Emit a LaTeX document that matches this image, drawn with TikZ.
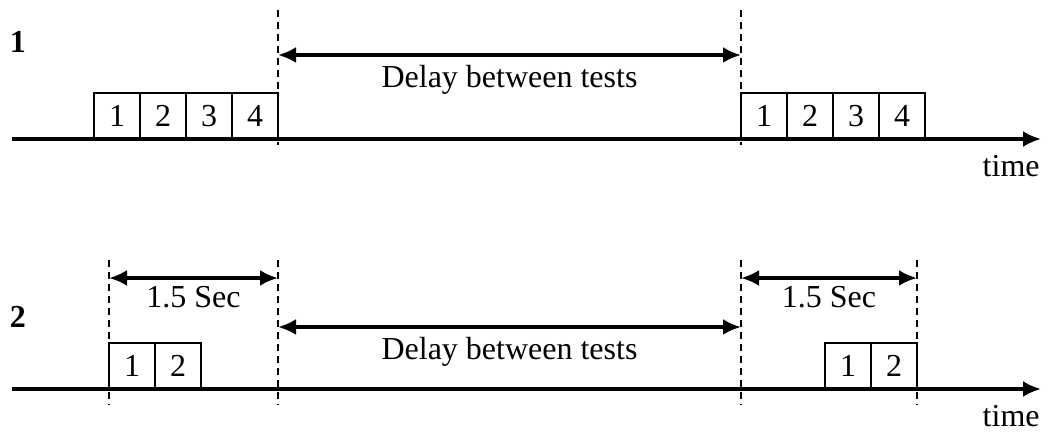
\documentclass[tikz,border=0pt]{standalone}
\usepackage{fontspec}
\setmainfont{Liberation Serif}
\usetikzlibrary{arrows.meta, positioning}

\begin{document}
\begin{tikzpicture}[
    x=0.5pt, y=-0.5pt, % one unit = one pixel of the reference
    >={Latex[length=9pt, width=8pt]}, % Filled arrow tips
    axis/.style={->, line width=1.7pt}, % Time axis
    cell/.style={draw, line width=1.1pt, minimum width=23pt, minimum height=23pt, inner sep=0pt, outer sep=0pt, font=\fontsize{16}{19}\selectfont}, % One test
    marker/.style={dash pattern=on 3.5pt off 2.5pt, line width=1.3pt}, % Dashed limits
    span/.style={<->, line width=1.7pt}, % Interval arrows
    txt/.style={font=\fontsize{16}{19}\selectfont} % Labels
]

    \useasboundingbox (0,0) rectangle (1053,433);

    % ---- Case 1 ----
    \node[txt, font=\fontsize{16}{19}\selectfont\bfseries] (caseA) at (18,42) {1};

    % Axis
    \coordinate (A0) at (12,139);
    \coordinate (A1) at (1041,139);
    \draw[axis] (A0) -- (A1);
    \node[txt, anchor=base east, inner sep=0pt] (timeA) at (1040,176) {time};

    % First group of tests
    \node[cell, anchor=south west] (a1) at (94,139) {1};
    \node[cell, right=0pt of a1] (a2) {2};
    \node[cell, right=0pt of a2] (a3) {3};
    \node[cell, right=0pt of a3] (a4) {4};

    % Second group of tests
    \node[cell, anchor=south west] (b1) at (741,139) {1};
    \node[cell, right=0pt of b1] (b2) {2};
    \node[cell, right=0pt of b2] (b3) {3};
    \node[cell, right=0pt of b3] (b4) {4};

    % Limits of the delay
    \coordinate (ua) at (278,10);
    \coordinate (la) at (278,145);
    \coordinate (ub) at (741,10);
    \coordinate (lb) at (741,145);
    \draw[marker] (ua) -- (la);
    \draw[marker] (ub) -- (lb);

    % Delay between tests
    \coordinate (da) at (278,55);
    \coordinate (db) at (741,55);
    \draw[span] (da) -- (db) node[midway, below=1pt, txt] (delayA) {Delay between tests};

    % ---- Case 2 ----
    \node[txt, font=\fontsize{16}{19}\selectfont\bfseries] (caseB) at (18,317) {2};

    % Axis
    \coordinate (B0) at (12,389);
    \coordinate (B1) at (1041,389);
    \draw[axis] (B0) -- (B1);
    \node[txt, anchor=base east, inner sep=0pt] (timeB) at (1040,426) {time};

    % Tests
    \node[cell, anchor=south west] (c1) at (109,389) {1};
    \node[cell, right=0pt of c1] (c2) {2};
    \node[cell, anchor=south east] (e2) at (917,389) {2};
    \node[cell, left=0pt of e2] (e1) {1};

    % Limits
    \coordinate (uc) at (109,260);
    \coordinate (lc) at (109,405);
    \coordinate (ud) at (278,260);
    \coordinate (ld) at (278,405);
    \coordinate (ue) at (741,260);
    \coordinate (le) at (741,405);
    \coordinate (uf) at (917,260);
    \coordinate (lf) at (917,405);
    \draw[marker] (uc) -- (lc);
    \draw[marker] (ud) -- (ld);
    \draw[marker] (ue) -- (le);
    \draw[marker] (uf) -- (lf);

    % 1.5 Sec windows
    \coordinate (ta) at (109,278);
    \coordinate (tb) at (278,278);
    \draw[span] (ta) -- (tb) node[midway, below=0pt, txt] (secA) {1.5 Sec};
    \coordinate (tc) at (741,278);
    \coordinate (td) at (917,278);
    \draw[span] (tc) -- (td) node[midway, below=0pt, txt] (secB) {1.5 Sec};

    % Delay between tests
    \coordinate (dc) at (278,327);
    \coordinate (dd) at (741,327);
    \draw[span] (dc) -- (dd) node[midway, below=1pt, txt] (delayB) {Delay between tests};

\end{tikzpicture}
\end{document}
